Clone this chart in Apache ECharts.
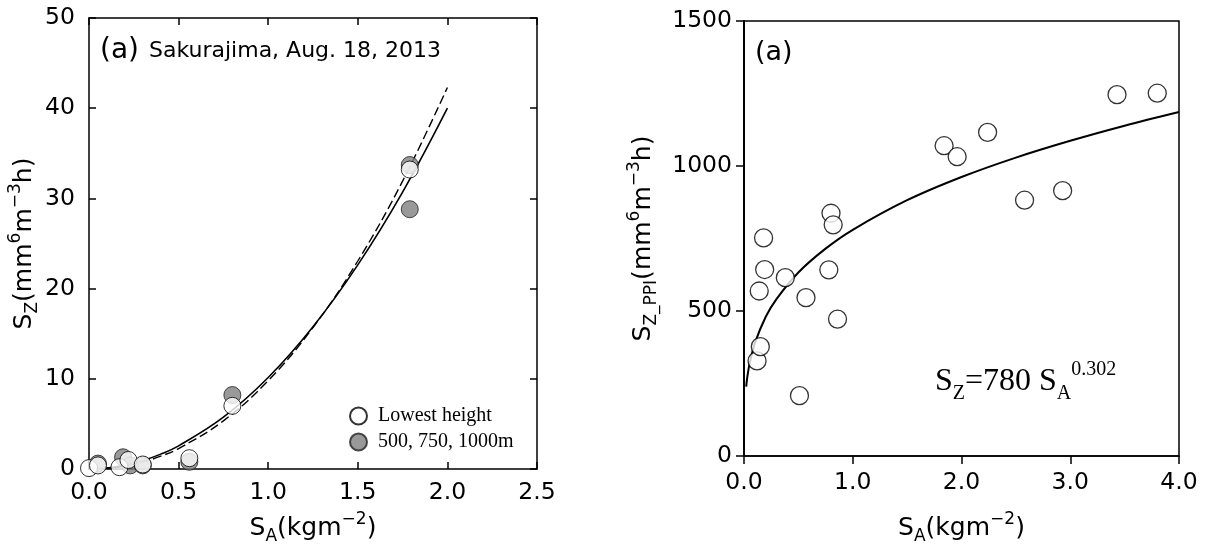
<!DOCTYPE html>
<html><head><meta charset="utf-8">
<script src="https://cdn.jsdelivr.net/npm/echarts@6/dist/echarts.min.js"></script>
<style>html,body{margin:0;padding:0;background:#fff}#c{width:1206px;height:552px}</style>
</head><body><div id="c"></div>
<script>
// ---- tick labels ----
const leftXTicks = ['0.0','0.5','1.0','1.5','2.0','2.5'];
const leftYTicks = ['0','10','20','30','40','50'];
const rightXTicks = ['0.0','1.0','2.0','3.0','4.0'];
const rightYTicks = ['0','500','1000','1500'];

// ---- left panel data (S_A, S_Z) ----
const lowestHeight = [[0.00,0.1],[0.05,0.4],[0.17,0.2],[0.22,1.0],[0.30,0.5],[0.56,1.2],[0.80,7.0],[1.79,33.2]];
const upperHeights = [[0.05,0.6],[0.19,1.3],[0.23,0.4],[0.30,0.4],[0.56,0.8],[0.80,8.2],[1.79,33.7],[1.79,28.8]];
const fitX = [0,0.1,0.2,0.3,0.4,0.5,0.75,1.0,1.25,1.5,1.75,2.0];
const fitSolidY = [0,0.11,0.42,0.93,1.65,2.57,5.74,10.14,15.77,22.63,30.7,40.0];
const fitDashedY = [0,0.08,0.33,0.77,1.42,2.27,5.34,9.80,15.69,23.06,31.92,42.3];

// ---- right panel data (S_A, S_Z_PPI) ----
const ppiX = [0.12,0.15,0.14,0.19,0.18,0.38,0.51,0.57,0.78,0.80,0.82,0.86,1.84,1.96,2.24,2.58,2.93,3.43,3.80];
const ppiY = [328,377,569,643,752,615,208,546,642,837,797,472,1070,1032,1116,882,915,1246,1251];
const ppiFitX = [0.02,0.03,0.05,0.1,0.2,0.3,0.5,0.75,1.0,1.5,2.0,2.5,3.0,3.5,4.0];
const ppiFitY = [239,271,316,389,480,542,633,715,780,882,962,1029,1087,1139,1186];

const SANS = 'DejaVu Sans';
const SERIF = 'Liberation Serif';
const tickFont = {fontFamily: SANS, fontSize: 23.5, color: '#000'};
const nameStyle = {
  fontFamily: SANS, fontSize: 25, color: '#000', lineHeight: 34,
  rich: {
    n: {fontFamily: SANS, fontSize: 25, color: '#000', lineHeight: 34},
    sub: {fontFamily: SANS, fontSize: 17, color: '#000', lineHeight: 17, verticalAlign: 'bottom'},
    sup: {fontFamily: SANS, fontSize: 17, color: '#000', lineHeight: 17, verticalAlign: 'top'}
  }
};
const axLine = {show: true, onZero: false, lineStyle: {color: '#000', width: 1.5}};

const chart = echarts.init(document.getElementById('c'), null, {renderer: 'canvas'});
chart.setOption({
  animation: false,
  backgroundColor: '#fff',
  grid: [
    {left: 89, top: 18, width: 448, height: 451, show: false},
    {left: 744, top: 21, width: 435, height: 435, show: true, borderColor: '#000', borderWidth: 1.5, backgroundColor: 'transparent'}
  ],
  xAxis: [
    {gridIndex: 0, type: 'value', min: 0, max: 2.5, interval: 0.5, position: 'bottom',
     axisLine: axLine, axisTick: {show: true, inside: true, length: 7, lineStyle: {color: '#000', width: 1.5}},
     axisLabel: {...tickFont, margin: 12, formatter: v => leftXTicks[Math.round(v / 0.5)]},
     splitLine: {show: false},
     name: '{n|S}{sub|A}{n|(kgm}{sup|−2}{n|)}', nameLocation: 'middle', nameGap: 42, nameTextStyle: nameStyle},
    {gridIndex: 0, type: 'value', min: 0, max: 2.5, interval: 0.5, position: 'top',
     axisLine: axLine, axisTick: {show: true, inside: true, length: 7, lineStyle: {color: '#000', width: 1.5}},
     axisLabel: {show: false}, splitLine: {show: false}},
    {gridIndex: 1, type: 'value', min: 0, max: 4, interval: 1, position: 'bottom',
     axisLine: axLine, axisTick: {show: true, inside: false, length: 8, lineStyle: {color: '#000', width: 1.5}},
     axisLabel: {...tickFont, margin: 15, formatter: v => rightXTicks[Math.round(v)]},
     splitLine: {show: false},
     name: '{n|S}{sub|A}{n|(kgm}{sup|−2}{n|)}', nameLocation: 'middle', nameGap: 55, nameTextStyle: nameStyle}
  ],
  yAxis: [
    {gridIndex: 0, type: 'value', min: 0, max: 50, interval: 10, position: 'left',
     axisLine: axLine, axisTick: {show: true, inside: true, length: 7, lineStyle: {color: '#000', width: 1.5}},
     axisLabel: {...tickFont, margin: 14, formatter: v => leftYTicks[Math.round(v / 10)]},
     splitLine: {show: false},
     name: '{n|S}{sub|Z}{n|(mm}{sup|6}{n|m}{sup|−3}{n|h)}', nameLocation: 'middle', nameRotate: 90, nameGap: 48, nameTextStyle: nameStyle},
    {gridIndex: 0, type: 'value', min: 0, max: 50, interval: 10, position: 'right',
     axisLine: axLine, axisTick: {show: true, inside: true, length: 7, lineStyle: {color: '#000', width: 1.5}},
     axisLabel: {show: false}, splitLine: {show: false}},
    {gridIndex: 1, type: 'value', min: 0, max: 1500, interval: 500, position: 'left',
     axisLine: {show: true, onZero: false, lineStyle: {color: '#000', width: 2}},
     axisTick: {show: true, inside: false, length: 8, lineStyle: {color: '#000', width: 1.5}},
     axisLabel: {...tickFont, margin: 12, formatter: v => rightYTicks[Math.round(v / 500)]},
     splitLine: {show: false},
     name: '{n|S}{sub|Z_PPI}{n|(mm}{sup|6}{n|m}{sup|−3}{n|h)}', nameLocation: 'middle', nameRotate: 90, nameGap: 84, nameTextStyle: nameStyle}
  ],
  legend: {
    data: ['Lowest height', '500, 750, 1000m'],
    orient: 'vertical', left: 349, top: 406, itemWidth: 17, itemHeight: 17, itemGap: 6,
    icon: 'circle', padding: 0,
    textStyle: {fontFamily: SERIF, fontSize: 20, color: '#000', padding: [0, 0, 0, 6]}
  },
  series: [
    {type: 'line', xAxisIndex: 0, yAxisIndex: 0, data: fitX.map((x, i) => [x, fitSolidY[i]]),
     smooth: 0.4, showSymbol: false, symbol: 'none', lineStyle: {color: '#000', width: 1.6}, z: 2},
    {type: 'line', xAxisIndex: 0, yAxisIndex: 0, data: fitX.map((x, i) => [x, fitDashedY[i]]),
     smooth: 0.4, showSymbol: false, symbol: 'none', lineStyle: {color: '#000', width: 1.4, type: [9, 4]}, z: 2},
    {name: '500, 750, 1000m', type: 'scatter', xAxisIndex: 0, yAxisIndex: 0, data: upperHeights,
     symbol: 'circle', symbolSize: 17, itemStyle: {color: '#808080', borderColor: '#222', borderWidth: 1}, z: 3},
    {name: 'Lowest height', type: 'scatter', xAxisIndex: 0, yAxisIndex: 0, data: lowestHeight,
     symbol: 'circle', symbolSize: 17, itemStyle: {color: '#fff', borderColor: '#000', borderWidth: 1}, z: 4},
    {type: 'line', xAxisIndex: 2, yAxisIndex: 2, data: ppiFitX.map((x, i) => [x, ppiFitY[i]]),
     smooth: 0.3, showSymbol: false, symbol: 'none', lineStyle: {color: '#000', width: 2}, z: 2},
    {type: 'scatter', xAxisIndex: 2, yAxisIndex: 2, data: ppiX.map((x, i) => [x, ppiY[i]]),
     symbol: 'circle', symbolSize: 18, itemStyle: {color: '#fff', borderColor: '#000', borderWidth: 1.3}, z: 4}
  ],
  graphic: [
    {type: 'text', x: 100, y: 51, z: 10,
     style: {text: '{a|(a)}{t|Sakurajima, Aug. 18, 2013}', verticalAlign: 'middle', align: 'left',
       rich: {a: {fontFamily: SANS, fontSize: 28, color: '#000', lineHeight: 34},
              t: {fontFamily: SANS, fontSize: 22, color: '#000', lineHeight: 34, padding: [0, 0, 0, 10]}}}},
    {type: 'text', x: 755, y: 53, z: 10,
     style: {text: '(a)', fontFamily: SANS, fontSize: 27, fill: '#000', verticalAlign: 'middle', align: 'left'}},
    {type: 'text', x: 935, y: 382, z: 10,
     style: {text: '{m|S}{s|Z}{m|=780 S}{s|A}{p|0.302}', verticalAlign: 'middle', align: 'left',
       rich: {m: {fontFamily: SERIF, fontSize: 32, color: '#000', lineHeight: 44},
              s: {fontFamily: SERIF, fontSize: 20, color: '#000', lineHeight: 20, verticalAlign: 'bottom'},
              p: {fontFamily: SERIF, fontSize: 20, color: '#000', lineHeight: 20, verticalAlign: 'top'}}}}
  ]
});
</script>
</body></html>
